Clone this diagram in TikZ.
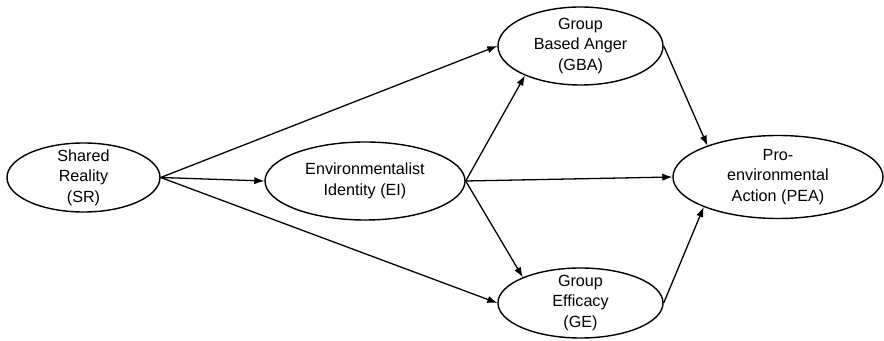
\documentclass[tikz,border=0pt]{standalone}
\usepackage{fontspec}
\setmainfont{Liberation Sans}
\usepackage{tikz}
\usetikzlibrary{shapes.geometric,arrows.meta}

\begin{document}
\begin{tikzpicture}[x=0.03cm,y=0.03cm,
		construct/.style={ellipse,draw,line width=1.2pt,align=center,
			inner xsep=0pt,inner ysep=-4mm,
			font=\fontsize{13.8}{17.5}\selectfont},
		path/.style={line width=1.1pt,-{Latex[length=3mm,width=2.2mm]}}]
		\useasboundingbox (0,0) rectangle (884,341);

		% Constructs
		\node[construct,minimum width=4.59cm,minimum height=2.07cm] (SR) at (83.5,163.5)
			{Shared\\Reality\\(SR)};
		\node[construct,minimum width=6cm,minimum height=2.34cm] (EI) at (365,160)
			{Environmentalist\\Identity (EI)};
		\node[construct,minimum width=4.95cm,minimum height=2.34cm] (GBA) at (580.5,295)
			{Group\\Based Anger\\(GBA)};
		\node[construct,minimum width=4.95cm,minimum height=2.1cm] (GE) at (580.5,38)
			{Group\\Efficacy\\(GE)};
		\node[construct,minimum width=6.3cm,minimum height=2.49cm] (PEA) at (778,164)
			{Pro-\\environmental\\Action (PEA)};

		% Paths
		\foreach \a/\b in {SR.east/GBA.west,SR.east/EI.west,SR.east/GE.west,
			EI.east/GBA.208,EI.east/PEA.west,EI.east/GE.156,
			GBA.east/PEA.156,GE.east/PEA.202} {
			\draw[path] (\a) -- (\b);
		}
	\end{tikzpicture}
\end{document}
